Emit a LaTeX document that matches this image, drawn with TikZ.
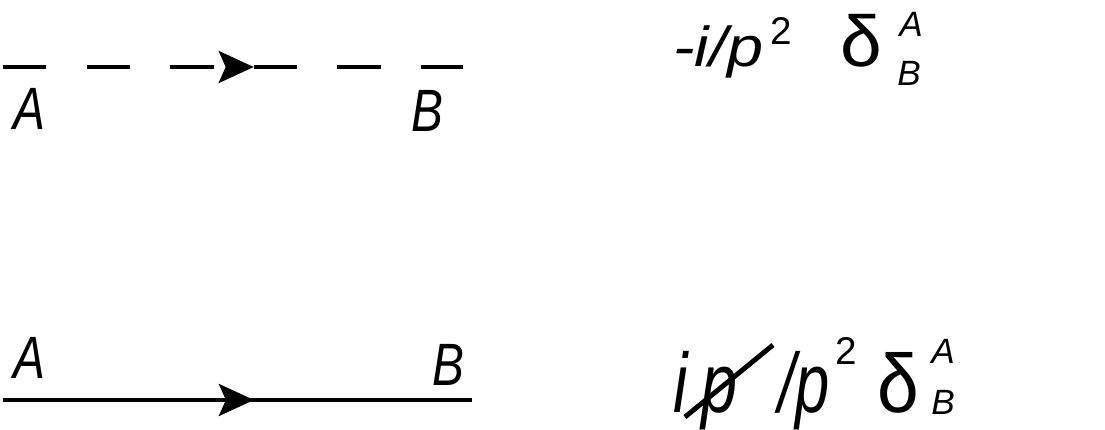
\documentclass[tikz,border=0pt]{standalone}
\usepackage{fontspec}
\setmainfont{Liberation Sans}
\usepackage{tikz}
\usetikzlibrary{positioning, arrows.meta, calc, decorations.markings}

\tikzset{
  prop/.style={line width=2.2pt},
  fwd/.style={postaction={decorate}, decoration={markings,
      mark=at position #1 with {\arrow[solid]{Stealth[length=7mm, width=6.4mm, inset=1.4mm]}}}},
  lbl/.style={font=\fontsize{34}{34}\selectfont\itshape, xscale=0.8, inner sep=0},
  big/.style={font=\fontsize{32}{32}\selectfont\itshape, xscale=1.15, inner sep=0, anchor=base west},
  sml/.style={font=\fontsize{22}{22}\selectfont, inner sep=0, anchor=base west},
  idx/.style={font=\fontsize{20}{20}\selectfont\itshape, inner sep=0, anchor=base west},
  dlt/.style={font=\fontsize{41}{41}\selectfont, inner sep=0, anchor=base west}
}

\begin{document}
\begin{tikzpicture}
\useasboundingbox (0, 0) rectangle (22.1, 8.6);

% scalar line
\coordinate (sA) at (0.06, 7.26);
\coordinate (sB) at (9.26, 7.26);
\draw[prop, dash pattern=on 0.87cm off 0.8cm, fwd=0.545] (sA) -- (sB);
\node[lbl] (sa) at (0.58, 6.42) {A};
\node[lbl] (sb) at (8.54, 6.38) {B};

% fermion line
\coordinate (fA) at (0.06, 0.6);
\coordinate (fB) at (9.44, 0.6);
\draw[prop, fwd=0.535] (fA) -- (fB);
\node[lbl] (fa) at (0.58, 1.44) {A};
\node[lbl] (fb) at (8.96, 1.30) {B};

% scalar propagator
\node[big] (sprop) at (13.46, 7.26) {-i/p};
\node[sml] (ssq) at (15.40, 7.70) {2};
\node[dlt, xscale=1.04] (sdelta) at (16.80, 7.26) {δ};
\node[idx] (sup) at (17.98, 7.86) {A};
\node[idx] (sub) at (17.94, 6.88) {B};

% fermion propagator
\node[big, yscale=1.5] (fi) at (13.46, 0.34) {i};
\node[big, yscale=1.5] (fp) at (14.02, 0.34) {p};
\draw[line width=2.8pt] (13.70, 0.26) -- (15.46, 1.70);
\node[big, xscale=0.95, yscale=1.5] (fprop) at (15.56, 0.34) {/p};
\node[sml] (fsq) at (16.70, 1.30) {2};
\node[dlt, xscale=1.04, yscale=1.15] (fdelta) at (17.54, 0.34) {δ};
\node[idx] (fup) at (18.62, 1.32) {A};
\node[idx] (fdn) at (18.62, 0.30) {B};
\end{tikzpicture}
\end{document}
